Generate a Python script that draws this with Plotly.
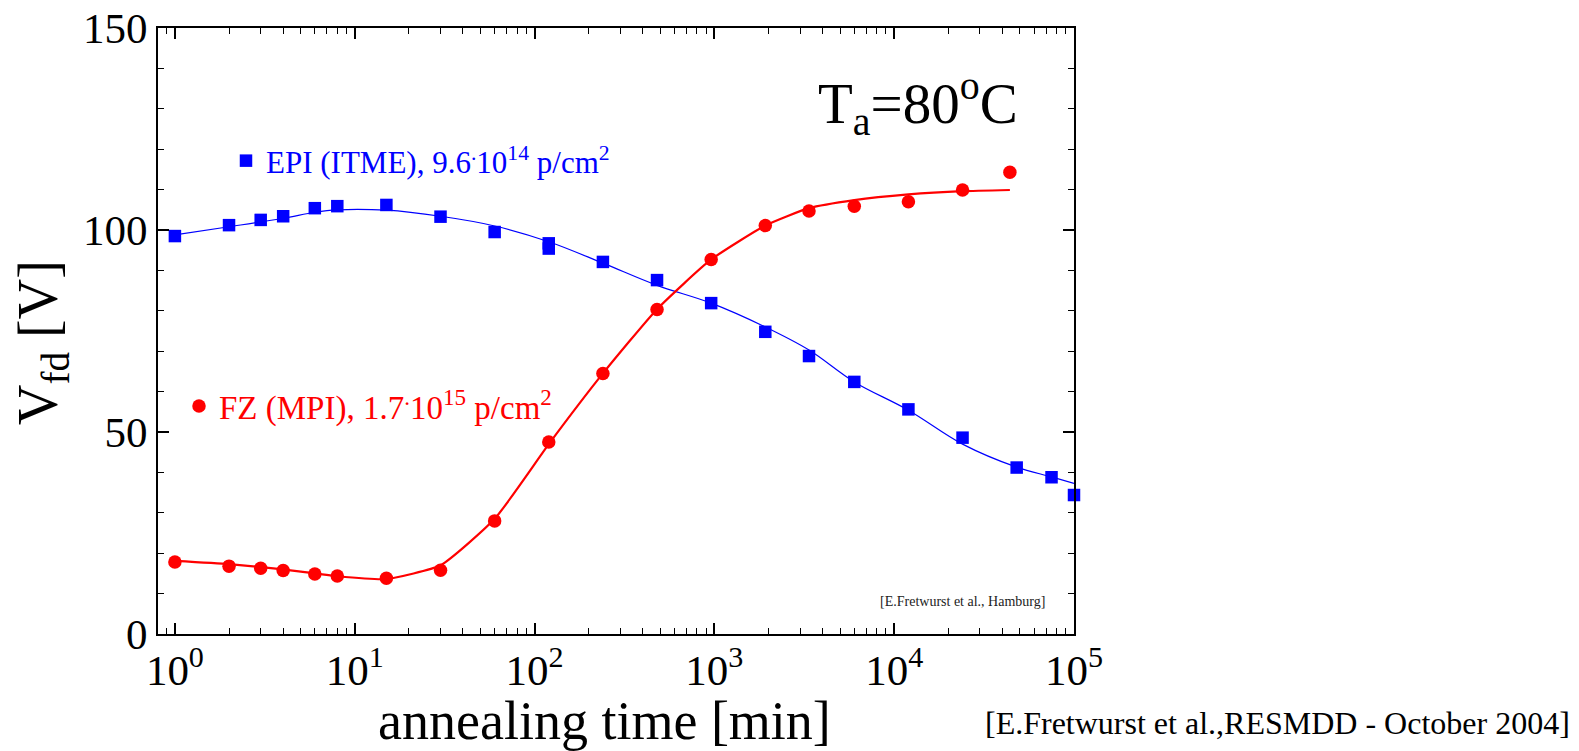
import plotly.graph_objects as go

# ---- data ----
t_epi = [1, 2, 3, 4, 6, 8, 15, 30, 60, 120, 120, 240, 480, 960, 1920, 3360, 6000, 12000, 24000, 48000, 75000, 100000]
v_epi = [98.5, 101.2, 102.5, 103.4, 105.4, 105.9, 106.2, 103.3, 99.5, 96.7, 95.4, 92.1, 87.6, 81.9, 74.8, 68.8, 62.4, 55.6, 48.6, 41.2, 38.8, 34.4]

t_epi_fit = [1, 2, 4, 6, 8, 15, 30, 60, 120, 240, 480, 960, 1920, 3360, 6000, 12000, 24000, 48000, 75000, 100000]
v_epi_fit = [98.8, 100.8, 102.9, 104.4, 105.0, 104.9, 103.4, 101.0, 97.1, 91.8, 86.3, 81.9, 76.0, 70.3, 62.4, 55.4, 47.0, 41.3, 38.9, 37.3]

t_fz = [1, 2, 3, 4, 6, 8, 15, 30, 60, 120, 240, 480, 960, 1920, 3360, 6000, 12000, 24000, 44000]
v_fz = [17.8, 16.8, 16.3, 15.7, 14.85, 14.35, 13.8, 15.8, 28.0, 47.5, 64.5, 80.3, 92.7, 101.1, 104.7, 105.9, 107.0, 109.9, 114.3]

t_fz_fit = [1, 2, 4, 8, 15, 30, 60, 120, 240, 480, 960, 1920, 3360, 6000, 12000, 24000, 44000]
v_fz_fit = [18.1, 17.3, 16.0, 14.3, 13.6, 17.0, 28.5, 47.0, 64.5, 80.4, 92.7, 101.1, 105.4, 107.4, 108.8, 109.6, 109.9]

x_tickvals = [1, 10, 100, 1000, 10000, 100000]
x_ticktext = ["10<sup>0</sup>", "10<sup>1</sup>", "10<sup>2</sup>", "10<sup>3</sup>", "10<sup>4</sup>", "10<sup>5</sup>"]
y_tickvals = [0, 50, 100, 150]

epi_name = "EPI (ITME), 9.6<sup>.</sup>10<sup>14</sup> p/cm<sup>2</sup>"
fz_name = "FZ (MPI), 1.7<sup>.</sup>10<sup>15</sup> p/cm<sup>2</sup>"

# ---- layout geometry (pixels) ----
W, H = 1579, 751
L, R, T, B = 158, 1074, 28, 634
PW, PH = R - L, B - T


def px(x):
    return (x - L) / PW


def py(y):
    return (B - y) / PH


FONT = "Liberation Serif"
BLUE = "#0000ff"
RED = "#ff0000"

fig = go.Figure()

fig.add_trace(go.Scatter(x=t_epi_fit, y=v_epi_fit, mode="lines", line=dict(color=BLUE, width=1.2, shape="spline", smoothing=1.0),
                         showlegend=False, hoverinfo="skip"))
fig.add_trace(go.Scatter(x=t_fz_fit, y=v_fz_fit, mode="lines", line=dict(color=RED, width=2.2, shape="spline", smoothing=0.5),
                         showlegend=False, hoverinfo="skip"))
fig.add_trace(go.Scatter(x=t_epi, y=v_epi, mode="markers", name=epi_name,
                         marker=dict(symbol="square", size=12.5, color=BLUE), legend="legend", cliponaxis=False))
fig.add_trace(go.Scatter(x=t_fz, y=v_fz, mode="markers", name=fz_name,
                         marker=dict(symbol="circle", size=13.5, color=RED), legend="legend2", cliponaxis=False))

axis_common = dict(
    showline=True, linecolor="black", linewidth=2, mirror="allticks",
    ticks="inside", tickcolor="black", tickwidth=1.5, ticklen=11,
    showgrid=False, zeroline=False,
    tickfont=dict(family=FONT, size=43, color="black"),
)

fig.update_xaxes(type="log", range=[-0.094, 5.0], tickmode="array", tickvals=x_tickvals, ticktext=x_ticktext,
                 ticklabelstandoff=-3,
                 minor=dict(ticks="inside", ticklen=6, tickwidth=1, tickcolor="black", dtick="D1", showgrid=False),
                 **axis_common)
fig.update_yaxes(range=[0, 150], tickmode="array", tickvals=y_tickvals,
                 minor=dict(ticks="inside", ticklen=6, tickwidth=1, tickcolor="black", dtick=10, showgrid=False),
                 **axis_common)

fig.update_layout(
    width=W, height=H,
    margin=dict(l=L, r=W - R, t=T, b=H - B, autoexpand=False),
    paper_bgcolor="white", plot_bgcolor="white",
    font=dict(family=FONT, color="black"),
    legend=dict(x=px(226), y=py(161), xanchor="left", yanchor="middle", bgcolor="rgba(0,0,0,0)",
                font=dict(family=FONT, size=31, color=BLUE), borderwidth=0),
    legend2=dict(x=px(179), y=py(406), xanchor="left", yanchor="middle", bgcolor="rgba(0,0,0,0)",
                 font=dict(family=FONT, size=33, color=RED), borderwidth=0),
    annotations=[
        dict(text="V<sub>fd</sub> [V]", x=px(42), y=py(343), xref="paper", yref="paper", showarrow=False,
             textangle=-90, xanchor="center", yanchor="middle", font=dict(family=FONT, size=56, color="black")),
        dict(text="annealing time [min]", x=px(604), y=py(721), xref="paper", yref="paper", showarrow=False,
             xanchor="center", yanchor="middle", font=dict(family=FONT, size=54, color="black")),
        dict(text="T<sub>a</sub>=80<sup>o</sup>C", x=px(1020), y=py(103), xref="paper", yref="paper", showarrow=False,
             xanchor="right", yanchor="middle", font=dict(family=FONT, size=57, color="black")),
        dict(text="[E.Fretwurst et al., Hamburg]", x=px(1047), y=py(601), xref="paper", yref="paper", showarrow=False,
             xanchor="right", yanchor="middle", font=dict(family=FONT, size=14, color="#222222")),
        dict(text="[E.Fretwurst et al.,RESMDD - October 2004]", x=px(1572), y=py(723), xref="paper", yref="paper",
             showarrow=False, xanchor="right", yanchor="middle", font=dict(family=FONT, size=32, color="black")),
    ],
)

fig.write_html("out.html")
